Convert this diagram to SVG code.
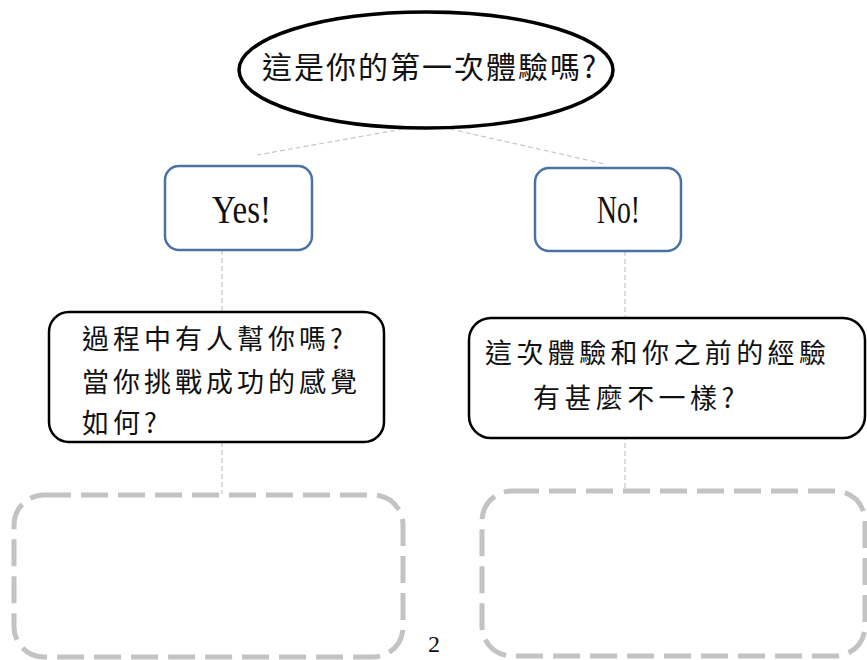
<svg xmlns="http://www.w3.org/2000/svg" width="867" height="660" viewBox="0 0 867 660">
<style>
.conn{stroke:#c8c8c8;stroke-width:1.2;stroke-dasharray:5 3;fill:none}
.blue{fill:#fff;stroke:#4a73a3;stroke-width:2.5}
.blk{fill:#fff;stroke:#000;stroke-width:2.5}
.dash{fill:none;stroke:#c3c3c3;stroke-width:5;stroke-dasharray:27 10}
.cjk{font-family:"Noto Sans CJK TC","Noto Sans CJK SC",sans-serif;font-size:27px;letter-spacing:4px;fill:#111}
.lat{font-family:"Liberation Serif",serif;font-size:39px;fill:#111}
</style>
<rect width="867" height="660" fill="#fff"/>
<g id="connectors">
<line class="conn" x1="403" y1="129" x2="257" y2="155"/>
<line class="conn" x1="450" y1="129" x2="605" y2="164"/>
<line class="conn" x1="222" y1="250" x2="222" y2="494"/>
<line class="conn" x1="625" y1="251" x2="625" y2="492"/>
</g>
<g id="n-question">
<ellipse cx="426" cy="70" rx="187" ry="58" fill="#fff" stroke="#000" stroke-width="3.5"/>
<text class="cjk" x="262" y="78" style="font-size:30px;letter-spacing:2px">這是你的第一次體驗嗎?</text>
</g>
<g id="n-yes">
<rect class="blue" x="165" y="166" width="147" height="84" rx="14"/>
<text class="lat" x="212" y="223" textLength="59" lengthAdjust="spacingAndGlyphs">Yes!</text>
</g>
<g id="n-no">
<rect class="blue" x="535" y="168" width="146" height="83" rx="14"/>
<text class="lat" x="597" y="223" textLength="43" lengthAdjust="spacingAndGlyphs">No!</text>
</g>
<g id="n-yes-q">
<rect class="blk" x="49" y="312" width="335" height="130" rx="20"/>
<text class="cjk" x="82" y="349">過程中有人幫你嗎?</text>
<text class="cjk" x="82" y="392">當你挑戰成功的感覺</text>
<text class="cjk" x="82" y="433">如何?</text>
</g>
<g id="n-no-q">
<rect class="blk" x="469" y="318" width="396" height="120" rx="22"/>
<text class="cjk" x="485" y="363" style="letter-spacing:4.4px">這次體驗和你之前的經驗</text>
<text class="cjk" x="533" y="408" style="letter-spacing:4.4px">有甚麼不一樣?</text>
</g>
<g id="n-yes-answer">
<rect class="dash" x="14" y="495" width="389" height="162" rx="30"/>
</g>
<g id="n-no-answer">
<rect class="dash" x="482" y="491" width="383" height="165" rx="30"/>
</g>
<text x="434" y="652" font-family="Liberation Serif, serif" font-size="24" text-anchor="middle" fill="#111">2</text>
</svg>
